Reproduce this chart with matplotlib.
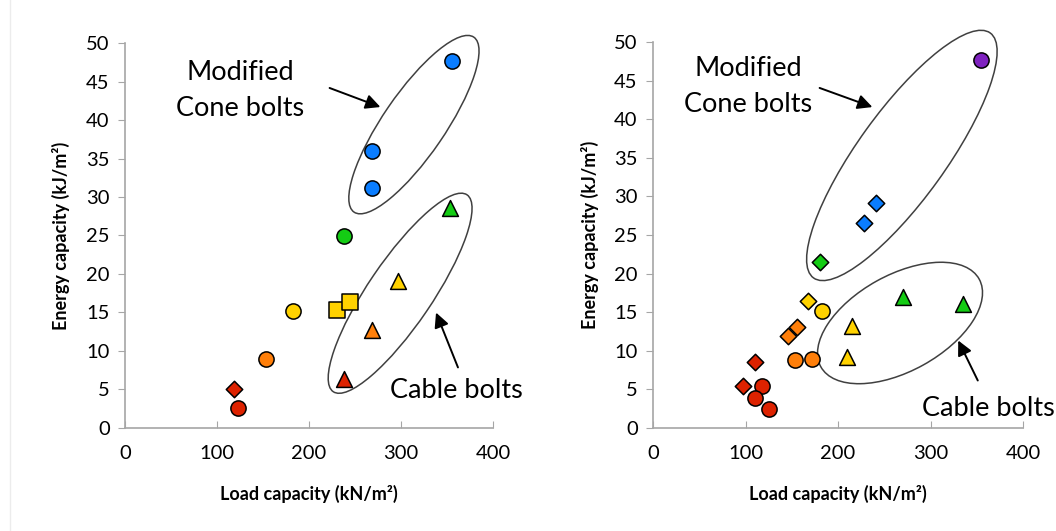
import numpy as np
import matplotlib
matplotlib.use("Agg")
from matplotlib import pyplot as plt
from matplotlib.patches import Ellipse
from matplotlib import transforms

plt.rcParams['font.family'] = ['Lato', 'DejaVu Sans']

# left panel
l_x = [355, 268, 268, 353, 238, 297, 183, 230, 245, 268, 153, 238, 118, 123]
l_y = [47.6, 36.0, 31.2, 28.6, 24.9, 19.1, 15.2, 15.3, 16.4, 12.7, 9.0, 6.4, 5.1, 2.6]
l_mk = ['o', 'o', 'o', '^', 'o', '^', 'o', 's', 's', '^', 'o', '^', 'D', 'o']
l_col = ['blue', 'blue', 'blue', 'green', 'green', 'yellow', 'yellow', 'yellow', 'yellow',
         'orange', 'orange', 'red', 'red', 'red']

# right panel
r_x = [355, 241, 228, 181, 270, 335, 168, 183, 215, 210, 156, 146, 153, 172, 110, 97, 118, 110, 125]
r_y = [47.6, 29.1, 26.6, 21.5, 17.0, 16.0, 16.5, 15.2, 13.2, 9.2, 13.1, 11.9, 8.8, 8.9, 8.5, 5.5, 5.4, 3.9, 2.5]
r_mk = ['o', 'D', 'D', 'D', '^', '^', 'D', 'o', '^', '^', 'D', 'D', 'o', 'o', 'D', 'D', 'o', 'o', 'o']
r_col = ['purple', 'blue', 'blue', 'green', 'green', 'green', 'yellow', 'yellow', 'yellow', 'yellow',
         'orange', 'orange', 'orange', 'orange', 'red', 'red', 'red', 'red', 'red']

colors = {'blue': '#0a7dff', 'green': '#14cc14', 'yellow': '#ffd200', 'orange': '#ff7f0a',
          'red': '#dd2200', 'purple': '#7f22c0'}
sizes = {'o': 120, 'D': 70, '^': 130, 's': 130}

fig = plt.figure(figsize=(10.56, 5.31), dpi=100)
ax1 = fig.add_axes([0.1184, 0.194, 0.3485, 0.725])
ax2 = fig.add_axes([0.6184, 0.194, 0.3504, 0.727])

fig.add_artist(plt.Line2D([0.0095, 0.0095], [0, 1], color='#ececec', lw=1))


def style(ax):
    ax.set_xlim(0, 400)
    ax.set_ylim(0, 50)
    ax.set_xticks(range(0, 401, 100))
    ax.set_yticks(range(0, 51, 5))
    for s in ['top', 'right']:
        ax.spines[s].set_visible(False)
    for s in ['left', 'bottom']:
        ax.spines[s].set_color('#a6a6a6')
        ax.spines[s].set_linewidth(1.2)
    ax.tick_params(axis='x', direction='in', length=5, color='#a6a6a6', labelsize=14.5, pad=12)
    ax.tick_params(axis='y', direction='out', length=5, color='#a6a6a6', labelsize=14.5, pad=6)
    ax.set_xlabel('Load capacity (kN/m²)', fontsize=13, fontweight='bold', labelpad=17)
    ax.set_ylabel('Energy capacity (kJ/m²)', fontsize=13, fontweight='bold')


def points(ax, xs, ys, mks, cols):
    for x, y, m, c in zip(xs, ys, mks, cols):
        ax.scatter(x, y, s=sizes[m], marker=m, c=colors[c], edgecolors='black',
                   linewidths=1.1, zorder=3, clip_on=False)


def ellipse(ax, cx, cy, w, h, ang):
    # width/height in pixels, centre in data coords
    tr = fig.dpi_scale_trans + transforms.ScaledTranslation(cx, cy, ax.transData)
    e = Ellipse((0, 0), w / 100, h / 100, angle=ang, transform=tr, fill=False,
                edgecolor='#404040', lw=1.1, clip_on=False)
    ax.add_patch(e)


def arrow(ax, x0, y0, x1, y1):
    ax.annotate('', xy=(x1, y1), xytext=(x0, y0), xycoords='figure pixels',
                textcoords='figure pixels',
                arrowprops=dict(arrowstyle='-|>', color='black', lw=1.4, mutation_scale=22))


style(ax1)
style(ax2)
points(ax1, l_x, l_y, l_mk, l_col)
points(ax2, r_x, r_y, r_mk, r_col)

H = 531
ellipse(ax1, 314, 39.4, 212, 62, 55.6)
ellipse(ax1, 299, 17.5, 238, 64, 55.8)
ellipse(ax2, 269, 35.3, 302, 88, 54.2)
ellipse(ax2, 267, 13.6, 181, 96, 29)

arrow(ax1, 327, H - 87, 383, H - 108)
arrow(ax1, 459, H - 370, 435, H - 310)
arrow(ax2, 817, H - 87, 875, H - 108)
arrow(ax2, 979, H - 383, 957, H - 338)

fig.text(240 / 1056, 1 - 91 / H, 'Modified\nCone bolts', ha='center', va='center',
         fontsize=19.5, linespacing=1.55)
fig.text(456 / 1056, 1 - 391 / H, 'Cable bolts', ha='center', va='center', fontsize=19.5)
fig.text(748 / 1056, 1 - 87 / H, 'Modified\nCone bolts', ha='center', va='center',
         fontsize=19.5, linespacing=1.55)
fig.text(988 / 1056, 1 - 408 / H, 'Cable bolts', ha='center', va='center', fontsize=19.5)

ax1.yaxis.set_label_coords(-0.15, 0.5)
ax2.yaxis.set_label_coords(-0.145, 0.5)

fig.savefig('out.png', dpi=100)
